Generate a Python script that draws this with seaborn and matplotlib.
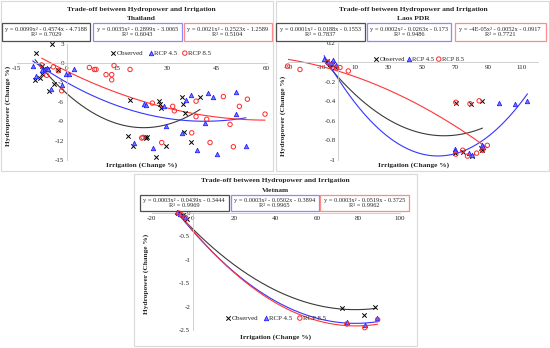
import matplotlib.pyplot as plt
from matplotlib.patches import Rectangle
import numpy as np
import seaborn as sns

sns.set_style('white')
plt.rcParams['font.family'] = ['Liberation Serif', 'DejaVu Serif']
plt.rcParams['axes.unicode_minus'] = False

W, H = 550, 348
series = ['Observed', 'RCP 4.5', 'RCP 8.5']

# ---------------- Thailand ----------------
th_obs_x = [-9.2, -9.5, -8.0, -7.5, -7.3, -5.7, -5.2, -4.5, -3.7, -2.5, 18.3, 19.0, 19.9,
            23.5, 23.8, 24.2, 26.7, 29.8, 27.7, 28.0, 28.2, 34.5, 35.0, 35.5, 35.3, 37.2, 40.0]
th_obs_y = [1.5, -2.6, -2.3, -0.5, -1.7, -1.0, -4.3, 2.9, -3.3, -1.1, -11.3, -5.75, -12.8,
            -11.4, -11.6, -11.5, -14.5, -12.9, -5.85, -6.4, -7.0, -5.2, -6.4, -7.7, -10.6, -12.2, -5.3]
th_r45_x = [-10.2, -9.2, -7.5, -6.5, -6.0, -5.5, -4.8, -1.5, -0.2, 0.7, 2.2, 20.2, 23.2, 23.8,
            26.0, 29.2, 29.8, 34.5, 35.8, 37.3, 39.1, 41.5, 42.5, 43.8, 45.2, 50.8, 50.7, 53.8]
th_r45_y = [-0.5, -2.0, -1.1, -0.9, -0.7, -1.0, -4.0, -3.4, -1.7, -1.7, -0.9, -12.3, -6.3, -6.5,
            -13.2, -6.7, -9.8, -10.9, -5.75, -4.9, -13.4, -9.3, -4.7, -5.3, -14.0, -4.5, -7.9, -12.8]
th_r85_x = [-7.5, -6.0, -4.0, -2.5, -1.5, 6.8, 8.3, 8.8, 11.8, 13.5, 13.5, 14.2, 19.0, 22.5, 22.9,
            25.7, 28.5, 31.8, 32.3, 37.5, 38.8, 38.8, 42.0, 43.0, 47.0, 49.0, 50.0, 51.8, 54.2, 59.5]
th_r85_y = [-0.3, -1.9, -0.6, -1.2, -4.3, -0.7, -1.0, -1.0, -1.8, -1.8, -2.6, -0.4, -1.0, -11.6, -11.5,
            -6.2, -12.3, -6.7, -7.4, -10.8, -5.9, -8.3, -8.7, -12.3, -5.2, -9.5, -12.95, -6.7, -5.6, -7.9]
th_fits = [[0.0099, -0.4574, -4.7188], [0.0035, -0.2899, -3.0065], [0.0021, -0.2523, -1.2589]]
th_eqs = ['y = 0.0099x² - 0.4574x - 4.7188\nR² = 0.7029',
          'y = 0.0035x² - 0.2899x - 3.0065\nR² = 0.6043',
          'y = 0.0021x² - 0.2523x - 1.2589\nR² = 0.5104']
th_xticks = [-15, 0, 15, 30, 45, 60]
th_yticks = [-15, -12, -9, -6, -3, 0, 3]

# ---------------- Laos PDR ----------------
la_obs_x = [-6.5, -5.0, -3.5, -2.0, 70.6, 79.6, 86.4, 70.0, 74.8, 80.4, 85.6, 86.5]
la_obs_y = [0.01, -0.02, -0.03, -0.05, -0.415, -0.43, -0.40, -0.925, -0.915, -0.96, -0.88, -0.90]
la_r45_x = [-8.5, -6.0, -4.5, -3.0, -1.5, 70.0, 70.3, 78.5, 80.0, 86.5, 87.0, 96.5, 106.0, 113.5]
la_r45_y = [0.03, 0.0, -0.01, 0.02, -0.03, -0.89, -0.91, -0.93, -0.95, -0.85, -0.87, -0.42, -0.43, -0.395]
la_r85_x = [-30.4, -23.0, -6.5, -4.0, -1.0, 1.0, 6.0, 70.5, 79.0, 84.5, 70.5, 74.6, 77.5, 83.0, 86.5, 89.4]
la_r85_y = [-0.04, -0.075, 0.0, -0.03, -0.06, -0.055, -0.09, -0.41, -0.425, -0.395,
            -0.94, -0.90, -0.96, -0.93, -0.90, -0.85]
la_fits = [[0.000148, -0.0188, -0.1553], [0.00022, -0.0263, -0.173], [-0.00004, -0.0052, -0.0917]]
la_eqs = ['y = 0.0001x² - 0.0188x - 0.1553\nR² = 0.7837',
          'y = 0.0002x² - 0.0263x - 0.173\nR² = 0.9486',
          'y = -4E-05x² - 0.0052x - 0.0917\nR² = 0.7721']
la_xticks = [-30, -10, 10, 30, 50, 70, 90, 110]
la_yticks = [-1, -0.8, -0.6, -0.4, -0.2, 0, 0.2]

# ---------------- Vietnam ----------------
vn_obs_x = [-7.0, -5.0, -3.0, 71.9, 82.8, 88.1]
vn_obs_y = [0.0, -0.05, -0.12, -2.04, -2.17, -2.0]
vn_r45_x = [-7.5, -6.0, -4.0, 74.3, 83.1, 88.9]
vn_r45_y = [0.02, -0.02, -0.08, -2.33, -2.40, -2.24]
vn_r85_x = [-7.0, -5.5, -3.5, 74.3, 83.0, 89.2]
vn_r85_y = [0.0, -0.04, -0.1, -2.37, -2.45, -2.28]
vn_fits = [[0.00028, -0.0439, -0.3444], [0.00032, -0.0502, -0.3894], [0.00033, -0.0519, -0.3725]]
vn_eqs = ['y = 0.0003x² - 0.0439x - 0.3444\nR² = 0.9969',
          'y = 0.0003x² - 0.0502x - 0.3894\nR² = 0.9965',
          'y = 0.0003x² - 0.0519x - 0.3725\nR² = 0.9962']
vn_xticks = [-20, 0, 20, 40, 60, 80, 100]
vn_yticks = [-2.5, -2, -1.5, -1, -0.5, 0]

line_colors = ['#3a3a3a', '#3535ff', '#ff3535']
box_colors = ['#505050', '#8a8aff', '#ff8a8a']

fig = plt.figure(figsize=(5.5, 3.48), dpi=100)


def fx(px):
    return px / W


def fy(py):
    return 1 - py / H


def panel(frame, country, title_y, plot, xlim, ylim, xticks, yticks,
          xs, ys, fits, eqs, boxes, box_y, leg, ylab, xlab_y):
    fig.add_artist(Rectangle((fx(frame[0]), fy(frame[3])), (frame[2] - frame[0]) / W,
                             (frame[3] - frame[1]) / H, transform=fig.transFigure,
                             fill=False, ec='#d9d9d9', lw=0.8))
    ax = fig.add_axes([fx(plot[0]), fy(plot[3]), (plot[2] - plot[0]) / W, (plot[3] - plot[1]) / H])
    ax.patch.set_alpha(0)
    cx = (plot[0] + plot[2]) / 2

    # trend lines
    for x, c, col in zip(xs, fits, line_colors):
        xx = np.linspace(min(x), max(x), 200)
        sns.lineplot(x=xx, y=np.polyval(c, xx), color=col, lw=0.8, sort=False,
                     estimator=None, ax=ax)

    sns.scatterplot(x=xs[0], y=ys[0], marker='x', color='black', s=10, linewidth=0.7,
                    label=series[0], ax=ax, clip_on=False, zorder=3)
    sns.scatterplot(x=xs[1], y=ys[1], marker='^', facecolor='#7a7aff', edgecolor='#2020ff',
                    s=10, linewidth=0.6, label=series[1], ax=ax, clip_on=False, zorder=3)
    sns.scatterplot(x=xs[2], y=ys[2], marker='o', facecolor='none', edgecolor='#ff2a2a',
                    s=10, linewidth=0.7, label=series[2], ax=ax, clip_on=False, zorder=3)

    ax.set_xlim(xlim)
    ax.set_ylim(ylim)
    ax.set_xticks(xticks)
    ax.set_yticks(yticks)
    ax.set_xticklabels([f'{t:g}' for t in xticks])
    ax.set_yticklabels([f'{t:g}' for t in yticks])
    ax.spines['left'].set_position(('data', 0))
    ax.spines['bottom'].set_position(('data', 0))
    ax.spines[['top', 'right']].set_visible(False)
    for s in ['left', 'bottom']:
        ax.spines[s].set_color('#c8c8c8')
        ax.spines[s].set_linewidth(0.6)
    ax.tick_params(length=0, labelsize=5, pad=2, colors='#222222')
    ax.set_xlabel('')
    ax.set_ylabel('')

    h, l = ax.get_legend_handles_labels()
    ax.legend(h, l, loc='center', bbox_to_anchor=(fx(leg[0]), fy(leg[1])),
              bbox_transform=fig.transFigure, ncol=3, frameon=False, fontsize=leg[2],
              handlelength=0.6, handletextpad=0.2, columnspacing=leg[3], borderpad=0)

    fig.text(fx(cx), fy(title_y), 'Trade-off between Hydropower and Irrigation',
             ha='center', va='center', fontsize=5.4, fontweight='bold')
    fig.text(fx(cx), fy(title_y + 9.5), country,
             ha='center', va='center', fontsize=5.4, fontweight='bold')

    for (b0, b1), txt, col in zip(boxes, eqs, box_colors):
        fig.add_artist(Rectangle((fx(b0), fy(box_y[1])), (b1 - b0) / W, (box_y[1] - box_y[0]) / H,
                                 transform=fig.transFigure, fill=False, ec=col, lw=0.9))
        fig.text(fx((b0 + b1) / 2), fy((box_y[0] + box_y[1]) / 2), txt, ha='center',
                 va='center', fontsize=4.6, linespacing=1.05)

    fig.text(fx(ylab[0]), fy(ylab[1]), 'Hydropower (Change %)',
             rotation=90, ha='center', va='center', fontsize=5.3, fontweight='bold')
    fig.text(fx(cx), fy(xlab_y), 'Irrigation (Change %)',
             ha='center', va='center', fontsize=5.3, fontweight='bold')
    return ax


panel((1, 1, 273, 171), 'Thailand', 9, (16.7, 43.6, 266.7, 160), (-15, 60), (-15, 3),
      th_xticks, th_yticks, [th_obs_x, th_r45_x, th_r85_x], [th_obs_y, th_r45_y, th_r85_y],
      th_fits, th_eqs, [(2, 90), (93, 181.5), (183.5, 271.5)], (23, 40.5),
      (161, 53, 5, 0.8), (8, 106), 165)

panel((276, 1, 549, 171), 'Laos PDR', 9, (288.3, 42.6, 538.3, 160), (-30, 120), (-1, 0.2),
      la_xticks, la_yticks, [la_obs_x, la_r45_x, la_r85_x], [la_obs_y, la_r45_y, la_r85_y],
      la_fits, la_eqs, [(276, 364.5), (366.5, 451), (454.5, 545.5)], (23, 40.5),
      (419, 59, 4.8, 0.35), (283, 116), 165)

panel((134, 174, 417, 346), 'Vietnam', 180.5, (151.5, 213, 400, 330), (-20, 100), (-2.5, 0),
      vn_xticks, vn_yticks, [vn_obs_x, vn_r45_x, vn_r85_x], [vn_obs_y, vn_r45_y, vn_r85_y],
      vn_fits, vn_eqs, [(139.5, 229), (230.5, 318.5), (320, 408.5)], (194.5, 211),
      (276, 318, 5, 0.8), (146, 274), 337)

plt.savefig('out.png', dpi=100)
